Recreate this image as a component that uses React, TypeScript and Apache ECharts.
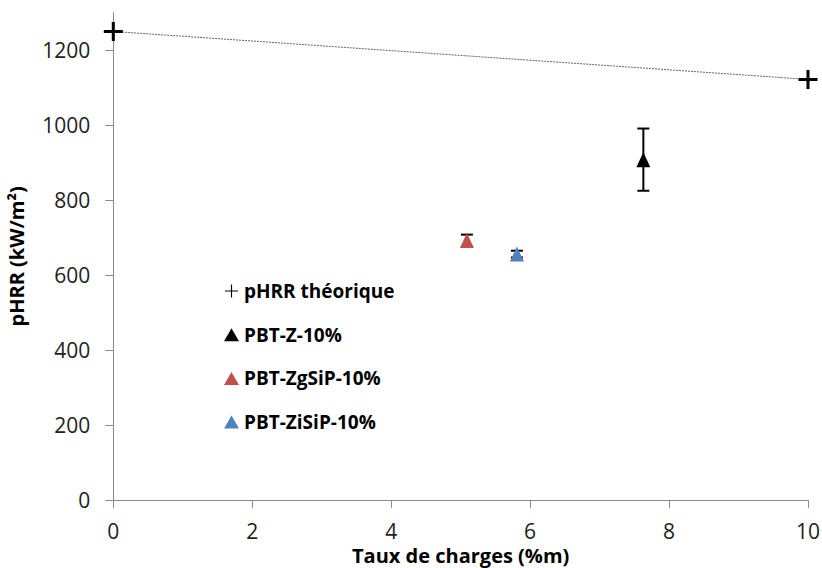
import React, { useEffect, useRef } from "react";
import * as echarts from "echarts";

const theoX = [0, 10];
const theoY = [1250, 1122];
const seriesNames = ["pHRR théorique", "PBT-Z-10%", "PBT-ZgSiP-10%", "PBT-ZiSiP-10%"];
const sampleX = [7.63, 5.09, 5.81];
const sampleY = [908, 692, 656];
const sampleErr = [83, 16, 9];
const sampleColors = ["#000000", "#C0504D", "#4F81BD"];
const yTicks = [0, 200, 400, 600, 800, 1000, 1200];

const PLUS_BIG = "path://M4.2,0 H5.8 V4.2 H10 V5.8 H5.8 V10 H4.2 V5.8 H0 V4.2 H4.2 Z";
const PLUS_THIN = "path://M4.55,0 H5.45 V4.55 H10 V5.45 H5.45 V10 H4.55 V5.45 H0 V4.55 H4.55 Z";

export default function App() {
  const ref = useRef<HTMLDivElement>(null);
  useEffect(() => {
    if (!ref.current) return;
    const chart = echarts.init(ref.current, null, { renderer: "svg" });
    const font = "'Open Sans', 'Noto Sans', sans-serif";
    const errData = sampleX.map((x, i) => [x, sampleY[i] - sampleErr[i], sampleY[i] + sampleErr[i]]);
    const series: any[] = [
      {
        name: seriesNames[0],
        type: "line",
        data: theoX.map((x, i) => [x, theoY[i]]),
        symbol: PLUS_BIG,
        symbolSize: 19,
        itemStyle: { color: "#000" },
        lineStyle: { color: "#666", width: 1, type: [2, 1] },
        z: 3,
      },
      {
        type: "custom",
        name: "err",
        data: errData,
        z: 2,
        renderItem: (params: any, api: any) => {
          const x = api.value(0);
          const lo = api.coord([x, api.value(1)]);
          const hi = api.coord([x, api.value(2)]);
          const w = 6;
          const st = { stroke: "#000", lineWidth: 2 };
          return {
            type: "group",
            children: [
              { type: "line", shape: { x1: lo[0], y1: lo[1], x2: hi[0], y2: hi[1] }, style: st },
              { type: "line", shape: { x1: lo[0] - w, y1: lo[1], x2: lo[0] + w, y2: lo[1] }, style: st },
              { type: "line", shape: { x1: hi[0] - w, y1: hi[1], x2: hi[0] + w, y2: hi[1] }, style: st },
            ],
          };
        },
      },
    ];
    sampleX.forEach((x, i) => {
      series.push({
        name: seriesNames[i + 1],
        type: "scatter",
        data: [[x, sampleY[i]]],
        symbol: "triangle",
        symbolSize: [14, 15],
        itemStyle: { color: sampleColors[i], opacity: 1 },
        z: 4,
      });
    });
    chart.setOption({
      animation: false,
      textStyle: { fontFamily: font },
      grid: { left: 113.3, right: 14, top: 12.7, bottom: 68, outerBoundsMode: "none", containLabel: false },
      legend: {
        orient: "vertical",
        left: 219,
        top: 276,
        itemGap: 23.7,
        itemWidth: 15,
        itemHeight: 13,
        textStyle: { fontSize: 19, fontWeight: "bold", color: "#000", fontFamily: font, lineHeight: 20 },
        data: [
          { name: seriesNames[0], icon: PLUS_THIN, itemStyle: { color: "#000" } },
          { name: seriesNames[1], icon: "triangle" },
          { name: seriesNames[2], icon: "triangle" },
          { name: seriesNames[3], icon: "triangle" },
        ],
        selectedMode: false,
      },
      xAxis: {
        type: "value",
        min: 0,
        max: 10,
        interval: 2,
        name: "Taux de charges (%m)",
        nameLocation: "middle",
        nameGap: 42,
        nameTextStyle: { fontSize: 20, fontWeight: "bold", color: "#000", fontFamily: font },
        axisLine: { lineStyle: { color: "#898989", width: 1 } },
        axisTick: { show: true, length: 8, inside: false, lineStyle: { color: "#898989" } },
        axisLabel: { fontSize: 21, color: "#222", margin: 20, fontFamily: font },
        splitLine: { show: false },
      },
      yAxis: {
        type: "value",
        min: 0,
        max: 1300,
        interval: 100,
        name: "pHRR (kW/m²)",
        nameLocation: "middle",
        nameGap: 87,
        nameRotate: 90,
        nameTextStyle: { fontSize: 20, fontWeight: "bold", color: "#000", fontFamily: font },
        axisLine: { show: true, lineStyle: { color: "#898989", width: 1 } },
        axisTick: { show: true, length: 8, customValues: yTicks, lineStyle: { color: "#898989" } },
        axisLabel: {
          fontSize: 21,
          color: "#222",
          margin: 23,
          customValues: yTicks,
          fontFamily: font,
          formatter: (v: number) => String(v),
        },
        splitLine: { show: false },
      },
      series,
    });
    return () => chart.dispose();
  }, []);
  return (
    <div
      ref={ref}
      style={{ position: "fixed", left: 0, top: 0, width: 822, height: 568, background: "#fff" }}
    />
  );
}
